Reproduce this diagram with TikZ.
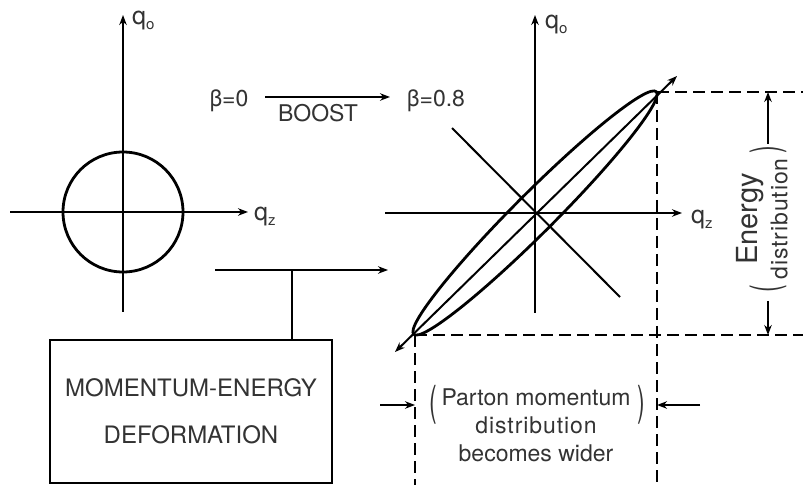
\documentclass[tikz,border=0pt]{standalone}
\usepackage{fontspec}
\setmainfont{TeX Gyre Heros}
\usetikzlibrary{arrows.meta, positioning}

\newcommand{\qsub}[1]{\raisebox{-5pt}{\fontsize{15}{15}\selectfont #1}}
\newcommand{\wide}[1]{{\addfontfeature{LetterSpace=4}#1}}

\begin{document}
\begin{tikzpicture}[x=1pt, y=1pt, >={Stealth[length=10pt, width=7.5pt]}, font=\fontsize{23}{28}\selectfont]
        % styles
        \tikzstyle{axis} = [line width=2pt]
        \tikzstyle{curve} = [line width=2.8pt]
        \tikzstyle{guide} = [line width=2pt, dash pattern=on 12pt off 6pt]
        \tikzstyle{lbl} = [inner sep=0pt, text=black!80]
        \tikzstyle{qlbl} = [lbl, anchor=base west, font=\fontsize{25}{28}\selectfont]
        \tikzstyle{block} = [draw, line width=2.6pt, minimum width=282pt, minimum height=143pt, align=center,
                             text=black!80, font=\fontsize{24}{28}\selectfont]

        \useasboundingbox (0,0) rectangle (803,485);
        \coordinate (edge) at (803,0);

        % rest frame
        \coordinate (o1) at (123,273);
        \coordinate (o1w) at (10,273);
        \coordinate (o1e) at (248,273);
        \coordinate (o1s) at (123,173);
        \coordinate (o1n) at (123,470);
        \draw[axis, ->] (o1w) -- (o1e);
        \draw[axis, ->] (o1s) -- (o1n);
        \draw[curve] (o1) circle [radius=60];
        \node[qlbl] (qo1) at (132,460) {q\qsub{o}};
        \node[qlbl] (qz1) at (254,264) {q\qsub{z}};

        % boost
        \node[lbl, anchor=base] (beta0) at (229,378) {β=0};
        \node[lbl, anchor=base] (beta8) at (436,378) {β=0.8};
        \coordinate (bst0) at (265,388);
        \coordinate (bst1) at (390,388);
        \draw[axis, ->] (bst0) -- (bst1);
        \node[lbl, anchor=base] (boost) at (318,363) {BOOST};

        % boosted frame
        \coordinate (o2) at (535,272);
        \coordinate (o2w) at (385,272);
        \coordinate (o2e) at (682,272);
        \coordinate (o2s) at (535,172);
        \coordinate (o2n) at (535,470);
        \coordinate (lcSW) at (395,133);
        \coordinate (lcNE) at (677,409);
        \coordinate (xNW) at (452,357);
        \coordinate (xSE) at (620,188);
        \draw[axis, ->] (o2w) -- (o2e);
        \draw[axis, ->] (o2s) -- (o2n);
        \draw[axis, <->] (lcSW) -- (lcNE);
        \draw[axis] (xNW) -- (xSE);
        \draw[curve, rotate around={45:(o2)}] (o2) ellipse [x radius=171.5, y radius=20];
        \node[qlbl] (qo2) at (545,456) {q\qsub{o}};
        \node[qlbl] (qz2) at (691,261) {q\qsub{z}};

        % dashed guides
        \coordinate (tipNE) at (657,393);
        \coordinate (tipSW) at (415,150);
        \draw[guide] (tipNE) -- (tipNE -| edge);
        \draw[guide] (tipNE) -- (tipNE |- edge);
        \draw[guide] (tipSW) -- (tipSW -| edge);
        \draw[guide] (tipSW) -- (tipSW |- edge);

        % energy width
        \node[lbl, rotate=90, align=center, font=\fontsize{23}{30}\selectfont] (energy) at (762,266)
            {{\fontsize{29}{30}\selectfont Energy}\\\wide{distribution}};
        \node[lbl, rotate=90] (eopen) at (768,196) {\scalebox{1}[1.7]{(}};
        \node[lbl, rotate=90] (eclose) at (768,335) {\scalebox{1}[1.7]{)}};
        \coordinate (eup) at (768,341);
        \coordinate (edn) at (768,184);
        \draw[axis, ->] (eup) -- (eup |- tipNE);
        \draw[axis, ->] (edn) -- (edn |- tipSW);

        % momentum width
        \node[lbl, align=center] (parton) at (536,60) {Parton momentum\\\wide{distribution}\\becomes wider};
        \node[lbl] (popen) at (433,80) {\scalebox{1}[1.8]{(}};
        \node[lbl] (pclose) at (641,80) {\scalebox{1}[1.8]{)}};
        \coordinate (pinL) at (380,80);
        \coordinate (pinR) at (700,80);
        \draw[axis, ->] (pinL) -- (pinL -| tipSW);
        \draw[axis, ->] (pinR) -- (pinR -| tipNE);

        % deformation block
        \node[block] (deform) at (191,73.5) {MOMENTUM-ENERGY\\[19pt]DEFORMATION};
        \coordinate (feed) at (215,215);
        \coordinate (feedend) at (388,215);
        \coordinate (tee) at (292,215);
        \draw[axis, ->] (feed) -- (feedend);
        \draw[axis] (tee) -- (tee |- deform.north);
\end{tikzpicture}
\end{document}
